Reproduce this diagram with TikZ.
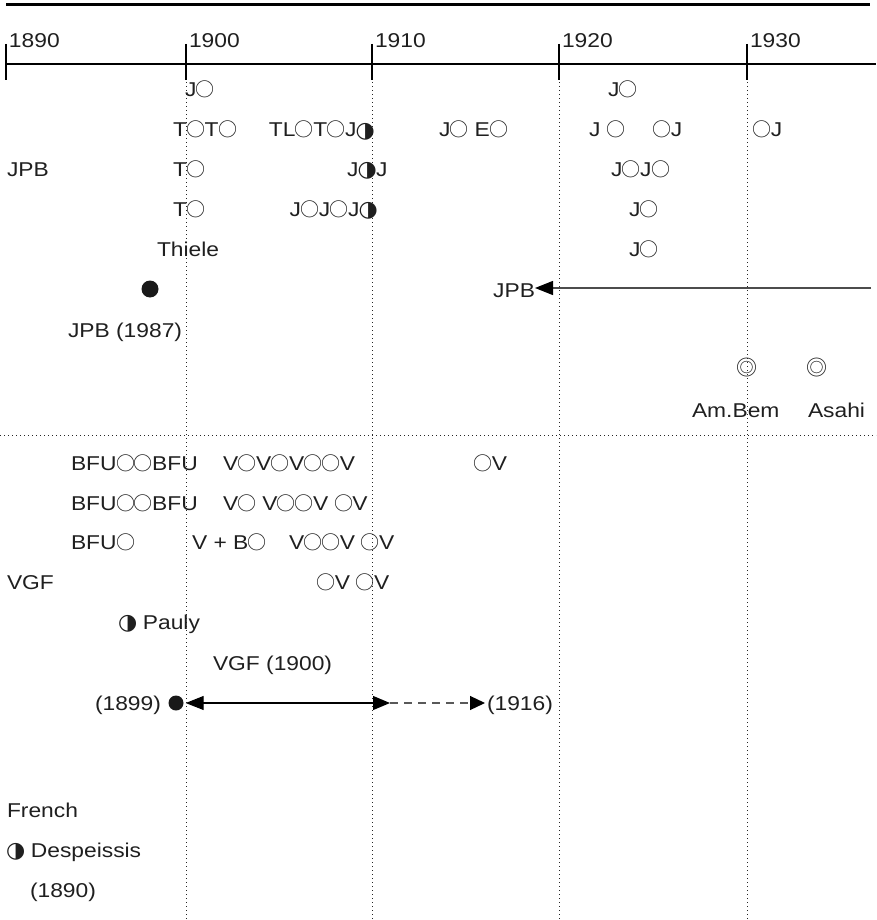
\documentclass[tikz,border=0pt]{standalone}
\usepackage{fontspec}
\setmainfont[FakeStretch=1.14]{Liberation Sans}
\newfontfamily\symf{DejaVu Sans}
\newfontfamily\cjkf{Noto Sans CJK JP}
\usetikzlibrary{arrows.meta}
\newcommand\wc{\kern-0.6pt{\cjkf\fontsize{19}{19}\selectfont ○}\kern-0.6pt}
\newcommand\hc{\kern-0.8pt\raisebox{-0.9pt}{\symf\fontsize{22}{22}\selectfont ◑}\kern-0.8pt}
\newcommand\dc{{\cjkf\fontsize{21}{21}\selectfont ◎}}
\tikzset{
  txt/.style={anchor=base west, inner sep=0pt, outer sep=0pt, font=\fontsize{20}{24}\selectfont, text=black!88},
  txte/.style={txt, anchor=base east},
  symb/.style={anchor=center, inner sep=0pt, outer sep=0pt, text=black!88},
  tickline/.style={line width=1.2pt},
  guide/.style={line width=0.7pt, black!85, dash pattern=on 0.8pt off 3.2pt},
  conn/.style={line width=1.2pt},
}
\begin{document}
\begin{tikzpicture}[x=1pt,y=-1pt]
\useasboundingbox (0,0) rectangle (876,920);
% top rule and axis
\draw[line width=3pt] (6,5) -- (870,5);
\draw[line width=1.2pt] (6,64) -- (876,64);
\foreach \xx/\yr in {6/1890,186/1900,372/1910,559/1920,747/1930}{
  \draw[tickline] (\xx,44) -- (\xx,80);
  \node[txt] (y\yr) at (\xx+3,48) {\yr};
}
% guides
\foreach \xx in {186,372,559,747}{
  \draw[guide] (\xx,82) -- (\xx,919);
}
\draw[guide] (0,435) -- (876,435);

% ---- JPB section
\node[txt] (a1) at (185,97) {J\wc};
\node[txt] (a2) at (608,97) {J\wc};
\node[txt] (b1) at (173,137) {T\wc T\wc};
\node[txte] (b2) at (374,137) {TL\wc T\wc J\hc};
\node[txt] (b3) at (439,137) {J\wc{} E\wc};
\node[txt] (b4) at (589,137) {J \wc};
\node[txt] (b5) at (653,137) {\wc J};
\node[txt] (b6) at (753,137) {\wc J};
\node[txt] (c0) at (7,176) {JPB};
\node[txt] (c1) at (173,176) {T\wc};
\node[txt] (c2) at (347,176) {J\hc J};
\node[txt] (c3) at (611,176) {J\wc J\wc};
\node[txt] (d1) at (173,216) {T\wc};
\node[txte] (d2) at (377,216) {J\wc J\wc J\hc};
\node[txt] (d3) at (629,216) {J\wc};
\node[txt] (e1) at (157,256) {Thiele};
\node[txt] (e2) at (629,256) {J\wc};
\node[circle, fill=black!90, minimum size=17pt, inner sep=0pt] (f1) at (150,289) {};
\node[txte] (jpbr) at (535,297) {JPB};
\coordinate (jpbend) at (871,288);
\draw[conn, black!70, -{Triangle[length=18pt,width=14pt,color=black]}] (jpbend) -- (jpbend -| jpbr.east);
\node[txt] (g1) at (68,337) {JPB (1987)};
\node[symb] (h1) at (747,368) {\dc};
\node[symb] (h2) at (817,368) {\dc};
\node[txt] (i1) at (692,417) {Am.Bem};
\node[txt] (i2) at (808,417) {Asahi};

% ---- VGF section
\node[txt] (j1) at (71,470) {BFU\wc\wc BFU};
\node[txt] (j2) at (223,470) {V\wc V\wc V\wc\wc V};
\node[txt] (j3) at (474,470) {\wc V};
\node[txt] (k1) at (71,510) {BFU\wc\wc BFU};
\node[txt] (k2) at (223,510) {V\wc{} V\wc\wc V \wc V};
\node[txt] (l1) at (71,549) {BFU\wc};
\node[txt] (l2) at (192,549) {V + B\wc};
\node[txt] (l3) at (289,549) {V\wc\wc V \wc V};
\node[txt] (m0) at (7,589) {VGF};
\node[txt] (m1) at (317,589) {\wc V \wc V};
\node[txt] (n1) at (119,629) {\hc{} Pauly};
\node[txt] (o1) at (213,670) {VGF (1900)};
\node[txt] (p0) at (95,710) {(1899)};
\node[circle, fill=black!90, minimum size=15pt, inner sep=0pt] (p1) at (176,703) {};
\coordinate (p2) at (390,703);
\coordinate (p3) at (485,703);
\node[txt] (p4) at (487,710) {(1916)};
\draw[conn, {Triangle[length=18pt,width=14pt]}-{Triangle[length=17pt,width=14pt]}, shorten <=2pt] (p1) -- (p2);
\draw[conn, black!65, dash pattern=on 8pt off 6pt, -{Triangle[length=15pt,width=14pt,color=black]}] (p2) -- (p3);

% ---- French
\node[txt] (q1) at (7,817) {French};
\node[txt] (q2) at (7,857) {\hc{} Despeissis};
\node[txt] (q3) at (30,897) {(1890)};
\end{tikzpicture}
\end{document}
